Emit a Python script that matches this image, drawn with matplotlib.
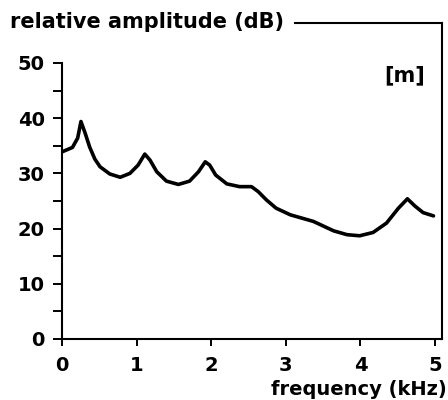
import matplotlib
matplotlib.use('Agg')
import matplotlib.pyplot as plt
from matplotlib.ticker import FixedLocator

# spectrum
freq = [0.0, 0.14, 0.21, 0.254, 0.31, 0.37, 0.44, 0.51, 0.64, 0.78, 0.91, 1.02, 1.11, 1.18,
        1.27, 1.40, 1.56, 1.71, 1.83, 1.92, 1.98, 2.06, 2.21, 2.38, 2.54, 2.63, 2.74, 2.87,
        3.06, 3.37, 3.64, 3.82, 3.99, 4.17, 4.35, 4.51, 4.63, 4.73, 4.84, 4.98]
amp = [33.9, 34.7, 36.4, 39.4, 37.3, 34.8, 32.6, 31.2, 29.9, 29.3, 30.0, 31.5, 33.5, 32.4,
       30.3, 28.6, 28.0, 28.6, 30.3, 32.1, 31.5, 29.7, 28.1, 27.6, 27.6, 26.7, 25.2, 23.7,
       22.5, 21.3, 19.6, 18.9, 18.7, 19.3, 21.0, 23.7, 25.4, 24.1, 22.9, 22.3]

xticks = [0, 1, 2, 3, 4, 5]
yticks = [0, 10, 20, 30, 40, 50]
yminor = [5, 15, 25, 35, 45]

plt.rcParams['font.family'] = ['DejaVu Sans']
plt.rcParams['font.weight'] = 'bold'

fig = plt.figure(figsize=(4.48, 4.0), dpi=100)
ax = fig.add_axes([62/448, 1-339/400, 380/448, 316/400])

ax.plot(freq, amp, color='black', lw=2.6, solid_capstyle='round', solid_joinstyle='round')

ax.set_xlim(0, 380/74.6)
ax.set_ylim(0, 316/5.52)

ax.set_xticks(xticks)
ax.set_yticks(yticks)
ax.yaxis.set_minor_locator(FixedLocator(yminor))
ax.tick_params(axis='y', which='both', direction='out', length=6.5, width=1.4, labelsize=14, pad=6)
ax.tick_params(axis='x', direction='out', length=5, width=1.4, labelsize=14, pad=7)

for s in ax.spines.values():
    s.set_linewidth(1.5)
ax.spines['left'].set_bounds(0, 50)
ax.spines['top'].set_bounds(3.12, 380/74.6)

ax.text(405/448, 1-75/400, '[m]', transform=fig.transFigure, ha='center', va='center', fontsize=15)
fig.text(10/448, 1-28/400, 'relative amplitude (dB)', ha='left', va='baseline', fontsize=15)
fig.text(447/448, 1-395/400, 'frequency (kHz)', ha='right', va='baseline', fontsize=14)

fig.savefig('out.png', dpi=100)
